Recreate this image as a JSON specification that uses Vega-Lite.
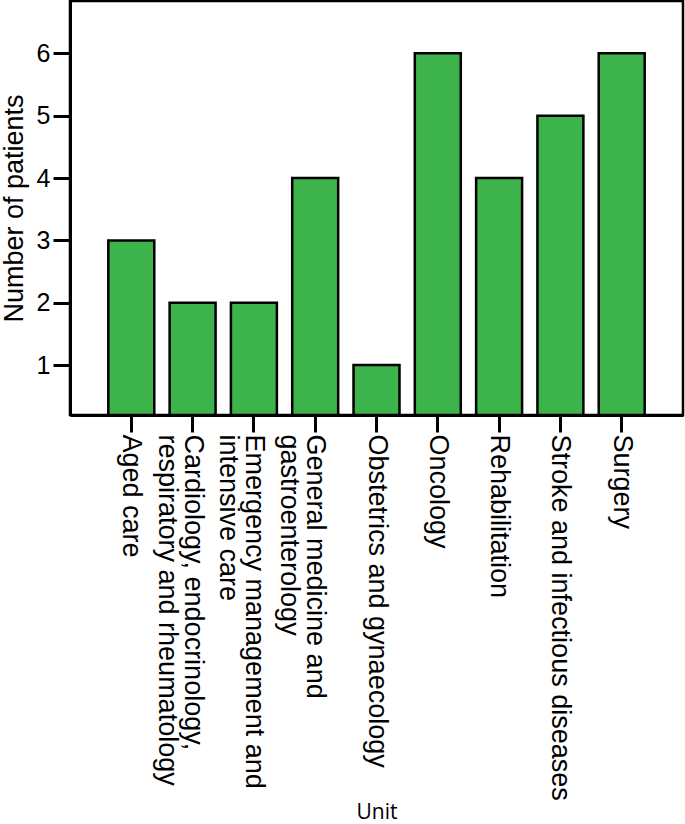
{
  "$schema": "https://vega.github.io/schema/vega-lite/v6.json",
  "autosize": {"type": "none"},
  "padding": {"left": 70, "top": 1, "right": 2, "bottom": 409},
  "width": 613,
  "height": 414,
  "background": "white",
  "config": {
    "view": {"stroke": "black", "strokeWidth": 2.5},
    "font": "Liberation Sans"
  },
  "data": {
    "values": [
      {"unit": "Aged care", "patients": 3},
      {"unit": "Cardiology, endocrinology, respiratory and rheumatology", "patients": 2},
      {"unit": "Emergency management and intensive care", "patients": 2},
      {"unit": "General medicine and gastroenterology", "patients": 4},
      {"unit": "Obstetrics and gynaecology", "patients": 1},
      {"unit": "Oncology", "patients": 6},
      {"unit": "Rehabilitation", "patients": 4},
      {"unit": "Stroke and infectious diseases", "patients": 5},
      {"unit": "Surgery", "patients": 6}
    ]
  },
  "mark": {"type": "bar", "color": "#3cb44b", "stroke": "black", "strokeWidth": 2.5},
  "encoding": {
    "x": {
      "field": "unit",
      "type": "nominal",
      "sort": null,
      "scale": {"paddingInner": 0.25, "paddingOuter": 0.625},
      "axis": {
        "title": "Unit",
        "titleFont": "Open Sans",
        "titleFontSize": 21,
        "titleFontWeight": "normal",
        "titleColor": "black",
        "titleBaseline": "alphabetic",
        "titleY": 403,
        "labelAngle": 90,
        "labelAlign": "left",
        "labelBaseline": "middle",
        "labelFontSize": 27,
        "labelLineHeight": 26,
        "labelColor": "black",
        "labelPadding": 2,
        "labelLimit": 0,
        "labelExpr": "datum.value == 'Cardiology, endocrinology, respiratory and rheumatology' ? ['Cardiology, endocrinology,', 'respiratory and rheumatology'] : datum.value == 'Emergency management and intensive care' ? ['Emergency management and', 'intensive care'] : datum.value == 'General medicine and gastroenterology' ? ['General medicine and', 'gastroenterology'] : datum.value",
        "domainColor": "black",
        "domainWidth": 3,
        "tickColor": "black",
        "tickWidth": 3,
        "tickSize": 17
      }
    },
    "y": {
      "field": "patients",
      "type": "quantitative",
      "scale": {"domain": [0.2, 6.84], "zero": false, "nice": false, "clamp": true},
      "axis": {
        "title": "Number of patients",
        "titleFontSize": 27,
        "titleFontWeight": "normal",
        "titleColor": "black",
        "titleBaseline": "alphabetic",
        "titleX": -48,
        "values": [1, 2, 3, 4, 5, 6],
        "grid": false,
        "labelFontSize": 25,
        "labelColor": "black",
        "labelPadding": 3,
        "domainColor": "black",
        "domainWidth": 3,
        "tickColor": "black",
        "tickWidth": 3,
        "tickSize": 17
      }
    },
    "y2": {"datum": 0.2}
  }
}
